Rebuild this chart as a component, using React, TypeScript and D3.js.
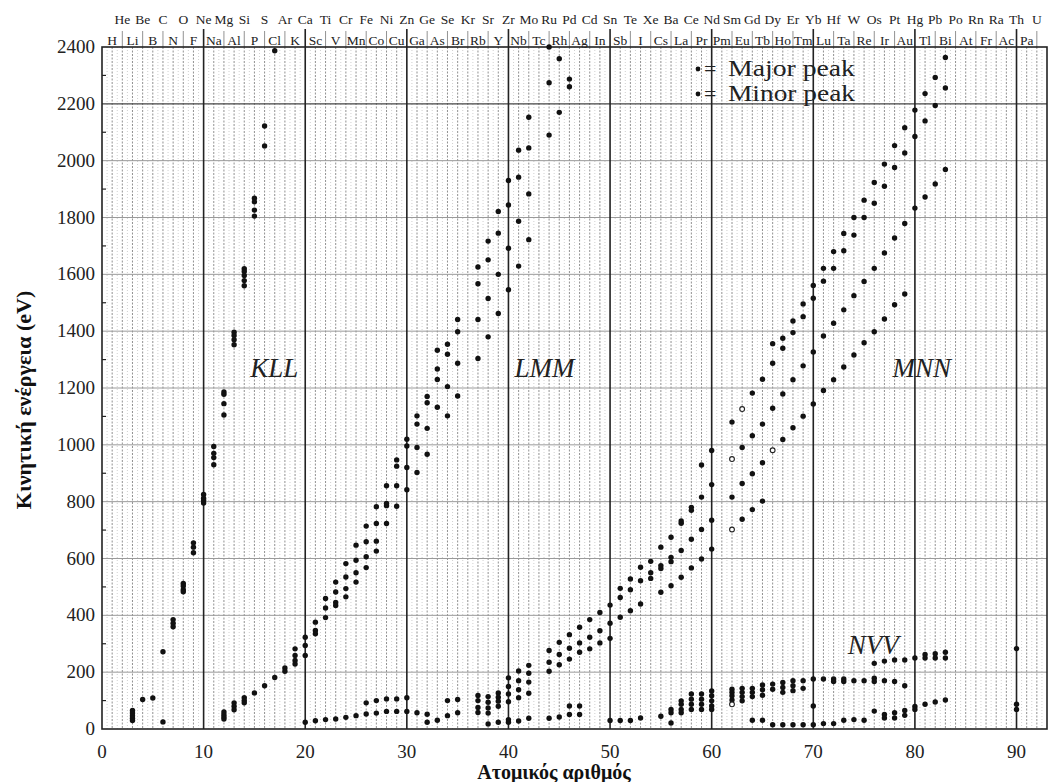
import React from 'react';
import * as d3 from 'd3';

// Element symbols, Z = index + 1
const SYMBOLS: string[] = ("H He Li Be B C N O F Ne Na Mg Al Si P S Cl Ar K Ca Sc Ti V Cr Mn Fe Co Ni Cu Zn " +
  "Ga Ge As Se Br Kr Rb Sr Y Zr Nb Mo Tc Ru Rh Pd Ag Cd In Sn Sb Te I Xe Cs Ba La Ce Pr Nd Pm Sm Eu Gd " +
  "Tb Dy Ho Er Tm Yb Lu Hf Ta W Re Os Ir Pt Au Hg Tl Pb Bi Po At Rn Fr Ra Ac Th Pa U").split(" ");

const X_TICKS: number[] = [0, 10, 20, 30, 40, 50, 60, 70, 80, 90];
const Y_TICKS: number[] = [0, 200, 400, 600, 800, 1000, 1200, 1400, 1600, 1800, 2000, 2200, 2400];

// [Z, energies (eV)]
const KLL: [number, number[]][] = [
  [3, [65, 56, 47, 38, 30]], [4, [104]], [5, [109]], [6, [272]],
  [7, [385, 372, 360]], [8, [512, 503, 490, 483]], [9, [655, 640, 620]],
  [10, [825, 812, 804, 795]], [11, [994, 970, 955, 930]], [12, [1186, 1178, 1145, 1105]],
  [13, [1396, 1385, 1370, 1352]], [14, [1620, 1610, 1596, 1578, 1560]],
  [15, [1868, 1855, 1826, 1805]], [16, [2122, 2052]], [17, [2387]],
];

const LVV: [number, number[]][] = [
  [6, [25]], [12, [60, 50, 42, 35]], [13, [92, 80, 68]], [14, [110, 100, 92]],
  [15, [127]], [16, [152]], [17, [181]],
];

const LMM: [number, number[]][] = [
  [18, [215, 203]], [19, [282, 259, 241, 229]], [20, [323, 294, 259]], [21, [376, 347, 335]],
  [22, [459, 426, 392]], [23, [517, 482, 445, 435]], [24, [582, 535, 494, 465]],
  [25, [647, 594, 550, 517]], [26, [714, 659, 606, 568]], [27, [782, 723, 661, 626]],
  [28, [856, 794, 786, 723]], [29, [947, 925, 856, 784]], [30, [1020, 996, 920, 842]],
  [31, [1102, 1073, 991, 903]], [32, [1170, 1148, 1058, 967]], [33, [1333, 1267, 1230, 1132]],
  [34, [1354, 1319, 1205, 1102]], [35, [1441, 1398, 1287, 1172]], [37, [1626, 1567, 1441, 1304]],
  [38, [1717, 1651, 1515, 1380]], [39, [1821, 1745, 1600, 1462]], [40, [1930, 1844, 1692, 1546]],
  [41, [2037, 1942, 1787, 1629]], [42, [2153, 2045, 1883, 1722]], [44, [2400, 2274, 2090]],
  [45, [2359, 2170]], [46, [2287, 2260]],
];

const MVV: [number, number[]][] = [
  [20, [24]], [21, [29]], [22, [33]], [23, [35]], [24, [41]], [25, [47]], [26, [92, 53]],
  [27, [100, 56]], [28, [106, 62]], [29, [106, 62]], [30, [110, 62]], [31, [57]], [32, [52, 24]],
  [33, [31]], [34, [100, 47]], [35, [104, 57]], [37, [118, 100, 76, 58]], [38, [114, 94, 74, 56, 18]],
  [39, [127, 112, 98, 80, 24]], [40, [180, 150, 123, 96, 33, 24]], [41, [204, 170, 138, 110, 28]],
  [42, [224, 196, 165, 126, 38]],
];

const MNN: [number, number[]][] = [
  [44, [276, 235, 203]], [45, [305, 262, 226]], [46, [332, 284, 246]], [47, [358, 303, 270]],
  [48, [385, 323, 282]], [49, [410, 346, 303]], [50, [436, 372, 319]], [51, [495, 463, 393]],
  [52, [528, 490, 416]], [53, [569, 522, 440]], [54, [590, 550, 530]], [55, [640, 575, 565, 481]],
  [56, [675, 604, 589, 504]], [57, [732, 724, 628, 534]], [58, [780, 770, 668, 567]],
  [59, [929, 816, 702, 598]], [60, [980, 860, 735, 633]], [62, [1080, 950, 816, 702]],
  [63, [1126, 991, 864, 738]], [64, [1182, 1032, 898, 772]], [65, [1231, 1073, 937, 802]],
  [66, [1356, 1287, 1129, 981]], [67, [1375, 1340, 1179, 1019]], [68, [1436, 1395, 1229, 1060]],
  [69, [1496, 1451, 1278, 1101]], [70, [1561, 1516, 1327, 1144]], [71, [1621, 1576, 1383, 1191]],
  [72, [1680, 1621, 1428, 1229]], [73, [1744, 1683, 1475, 1274]], [74, [1800, 1738, 1525, 1316]],
  [75, [1861, 1800, 1575, 1359]], [76, [1923, 1850, 1621, 1398]], [77, [1988, 1910, 1675, 1443]],
  [78, [2053, 1976, 1728, 1493]], [79, [2116, 2027, 1779, 1531]], [80, [2178, 2085, 1833]],
  [81, [2236, 2140, 1872]], [82, [2293, 2194, 1918]], [83, [2363, 2256, 1969]],
];

const NVV: [number, number[]][] = [
  [44, [38]], [45, [42]], [46, [81, 51]], [47, [81, 51]], [50, [30]], [51, [30]], [52, [30]],
  [53, [39]], [55, [45]], [56, [69, 57, 21]], [57, [99, 87, 69, 57]], [58, [123, 105, 87, 69]],
  [59, [123, 105, 87, 69]], [60, [134, 117, 99, 81, 69]], [62, [140, 129, 117, 102, 87]],
  [63, [143, 129, 114, 99]], [64, [143, 129, 114, 31]], [65, [155, 138, 119, 31]],
  [66, [158, 140, 15]], [67, [164, 146, 129, 15]], [68, [170, 152, 135, 15]], [69, [170, 143, 15]],
  [70, [176, 81, 15]], [71, [176, 19]], [72, [176, 167, 19]], [73, [176, 167, 31]], [74, [170, 33]],
  [75, [170, 31]], [76, [231, 179, 167, 63]], [77, [239, 170, 51, 39]], [78, [243, 167, 57, 39]],
  [79, [243, 152, 65, 48]], [80, [250, 79, 69]], [81, [262, 250, 87]], [82, [265, 250, 95]],
  [83, [270, 250, 102]], [90, [283, 87, 69]],
];

// Hollow (minor) markers [Z, energy]
const MINOR: [number, number][] = [[62, 950], [62, 702], [63, 1126], [66, 981], [62, 87]];

const SERIES_LABELS: { text: string; z: number; e: number }[] = [
  { text: 'KLL', z: 14.6, e: 1240 },
  { text: 'LMM', z: 40.6, e: 1240 },
  { text: 'MNN', z: 77.8, e: 1240 },
  { text: 'NVV', z: 73.4, e: 265 },
];

const SERIF = "'Liberation Serif', 'DejaVu Serif', serif";

export default function App() {
  const W = 1054, H = 782;
  const left = 102, right = 1047, top = 47, bottom = 729;
  const x = d3.scaleLinear().domain([0, 93]).range([left, right]);
  const y = d3.scaleLinear().domain([0, 2400]).range([bottom, top]);

  const all: { z: number; e: number; minor: boolean }[] = [];
  [KLL, LVV, LMM, MVV, MNN, NVV].forEach((s) =>
    s.forEach(([z, es]) =>
      es.forEach((e) => all.push({ z, e, minor: MINOR.some(([mz, me]) => mz === z && me === e) }))
    )
  );

  const intLines = d3.range(1, 93).filter((z) => z % 10 !== 0);
  const halfLines = d3.range(0, 93).map((z) => z + 0.5);
  const decade = [10, 20, 30, 40, 50, 60, 70, 80, 90];
  const hLines = d3.range(200, 2400, 200);
  const minorY = d3.range(100, 2400, 200);

  return (
    <svg width={W} height={H} style={{ position: 'absolute', left: 0, top: 0, background: '#fff' }}
      fontFamily={SERIF}>
      <rect x={0} y={0} width={W} height={H} fill="#fff" />
      {halfLines.map((z) => (
        <line key={'h' + z} x1={x(z)} x2={x(z)} y1={top} y2={bottom} stroke="#c4c4c4"
          strokeWidth={0.8} strokeDasharray="1,2" />
      ))}
      {intLines.map((z) => (
        <line key={'i' + z} x1={x(z)} x2={x(z)} y1={top} y2={bottom} stroke="#858585"
          strokeWidth={0.9} strokeDasharray="2,1.5" />
      ))}
      {d3.range(2, 93, 2).filter((z) => z % 10 !== 0).map((z) => (
        <line key={'s' + z} x1={x(z)} x2={x(z)} y1={31} y2={top} stroke="#777" strokeWidth={0.8} />
      ))}
      {hLines.map((v) => (
        <line key={'y' + v} x1={left} x2={right} y1={y(v)} y2={y(v)}
          stroke={v === 2200 ? '#444' : '#9a9a9a'} strokeWidth={v === 2200 ? 1.3 : 1} />
      ))}
      {decade.map((z) => (
        <line key={'d' + z} x1={x(z)} x2={x(z)} y1={29} y2={bottom} stroke="#222" strokeWidth={1.6} />
      ))}
      <rect x={left} y={top} width={right - left} height={bottom - top} fill="none" stroke="#222" strokeWidth={1.6} />
      {minorY.map((v) => (
        <line key={'m' + v} x1={left} x2={left + 4} y1={y(v)} y2={y(v)} stroke="#222" strokeWidth={1.2} />
      ))}
      {Y_TICKS.map((v) => (
        <text key={'yt' + v} x={95} y={y(v) + 6} textAnchor="end" fontSize={19} fill="#222">{v}</text>
      ))}
      {X_TICKS.map((v) => (
        <text key={'xt' + v} x={x(v)} y={758} textAnchor="middle" fontSize={19} fill="#222">{v}</text>
      ))}
      {SYMBOLS.map((s, i) => {
        const z = i + 1;
        const even = z % 2 === 0;
        return (
          <text key={'el' + z} x={x(z)} y={even ? 24 : 45} textAnchor="middle" fontSize={13.5} fill="#222">{s}</text>
        );
      })}
      {all.map((p, i) => (
        p.minor ? (
          <circle key={'p' + i} cx={x(p.z)} cy={y(p.e)} r={2.4} fill="#fff" stroke="#222" strokeWidth={1.1} />
        ) : (
          <circle key={'p' + i} cx={x(p.z)} cy={y(p.e)} r={2.7} fill="#111" />
        )
      ))}
      {SERIES_LABELS.map((l) => (
        <text key={l.text} x={x(l.z)} y={y(l.e)} fontSize={27} fontStyle="italic" fill="#222">{l.text}</text>
      ))}
      <circle cx={698} cy={69} r={2.4} fill="#111" />
      <text x={704} y={76} fontSize={22} fill="#222">=</text>
      <text x={728} y={76} fontSize={23} fill="#222" textLength={127} lengthAdjust="spacingAndGlyphs">Major peak</text>
      <circle cx={698} cy={94} r={2.4} fill="#111" />
      <text x={704} y={101} fontSize={22} fill="#222">=</text>
      <text x={728} y={101} fontSize={23} fill="#222" textLength={127} lengthAdjust="spacingAndGlyphs">Minor peak</text>
      <text x={554} y={779} textAnchor="middle" fontSize={20} fontWeight="bold" fill="#111">Ατομικός αριθμός</text>
      <text transform="translate(31,400) rotate(-90)" textAnchor="middle" fontSize={22} fontWeight="bold" fill="#111">
        Κινητική ενέργεια (eV)
      </text>
    </svg>
  );
}
